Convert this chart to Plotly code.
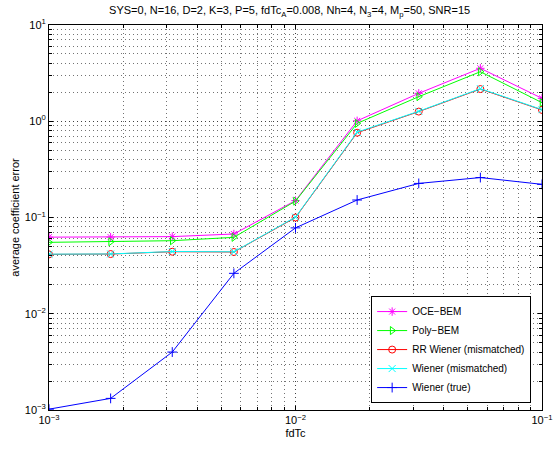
import plotly.graph_objects as go

fdtc = [0.001, 0.0017783, 0.0031623, 0.0056234, 0.01, 0.017783, 0.031623, 0.056234, 0.1]
oce_bem = [0.0625, 0.0625, 0.0633, 0.0674, 0.150, 1.01, 1.95, 3.55, 1.73]
poly_bem = [0.0552, 0.0560, 0.0574, 0.0622, 0.148, 0.95, 1.80, 3.27, 1.56]
rr_wiener_mis = [0.0414, 0.0417, 0.0441, 0.0438, 0.100, 0.76, 1.26, 2.16, 1.31]
wiener_mis = [0.0416, 0.0418, 0.0443, 0.0440, 0.101, 0.77, 1.27, 2.18, 1.32]
wiener_true = [0.00102, 0.00132, 0.00400, 0.0263, 0.078, 0.152, 0.226, 0.260, 0.221]

series = [
    ("OCE\u2212BEM", oce_bem, "#ff00ff", "asterisk-open"),
    ("Poly\u2212BEM", poly_bem, "#00ff00", "triangle-right-open"),
    ("RR Wiener (mismatched)", rr_wiener_mis, "#ff0000", "circle-open"),
    ("Wiener (mismatched)", wiener_mis, "#00ffff", "x-thin-open"),
    ("Wiener (true)", wiener_true, "#0000ff", "cross-thin-open"),
]

fig = go.Figure()
for name, ys, color, sym in series:
    fig.add_trace(go.Scatter(
        x=fdtc, y=ys, name=name, mode="lines+markers",
        line=dict(color=color, width=1),
        marker=dict(symbol=sym, size=7, color=color, line=dict(color=color, width=1)),
    ))

font = dict(family="Liberation Sans, Arial, sans-serif", size=11, color="black")


def decade_ticks(lo, hi):
    vals, texts = [], []
    for e in range(lo, hi + 1):
        vals.append(10.0 ** e)
        s = "\u2212" + str(-e) if e < 0 else str(e)
        texts.append("10<sup>" + s + "</sup>")
    return vals, texts


def minor_vals(lo, hi):
    return [m * 10.0 ** e for e in range(lo, hi) for m in range(2, 10)]


grid_dash = "1px,3px"
axis_common = dict(
    type="log", showline=True, linecolor="black", linewidth=1, mirror="ticks",
    ticks="inside", ticklen=4, tickcolor="black",
    showgrid=True, gridcolor="rgba(0,0,0,0.75)", griddash=grid_dash, gridwidth=1,
    zeroline=False, tickfont=font, automargin=False,
)

xt, xtl = decade_ticks(-3, -1)
yt, ytl = decade_ticks(-3, 1)

fig.update_xaxes(**axis_common, range=[-3, -1], tickvals=xt, ticktext=xtl,
                 minor=dict(tickvals=minor_vals(-3, -1), ticks="inside", ticklen=3,
                            tickcolor="black", showgrid=True,
                            gridcolor="rgba(0,0,0,0.55)", griddash=grid_dash, gridwidth=1),
                 title=dict(text="fdTc", font=font, standoff=4))
fig.update_yaxes(**axis_common, range=[-3, 1], tickvals=yt, ticktext=ytl,
                 minor=dict(tickvals=minor_vals(-3, 1), ticks="inside", ticklen=3,
                            tickcolor="black", showgrid=True,
                            gridcolor="rgba(0,0,0,0.55)", griddash=grid_dash, gridwidth=1),
                 title=dict(text="average coefficient error", font=font, standoff=2))

fig.update_layout(
    width=557, height=449,
    margin=dict(l=49, r=15, t=25, b=39),
    paper_bgcolor="white", plot_bgcolor="white",
    font=font,
    title=dict(text="SYS=0, N=16, D=2, K=3, P=5, fdTc<sub>A</sub>=0.008, Nh=4, N<sub>3</sub>=4, M<sub>p</sub>=50, SNR=15",
               x=0.52, xanchor="center", y=0.985, yanchor="top", font=font),
    legend=dict(x=0.978, xanchor="right", y=0.018, yanchor="bottom",
                bordercolor="black", borderwidth=1, bgcolor="white",
                font=dict(family=font["family"], size=10, color="black"),
                tracegroupgap=0, itemwidth=30),
    showlegend=True,
)

fig.write_html("out.html")
